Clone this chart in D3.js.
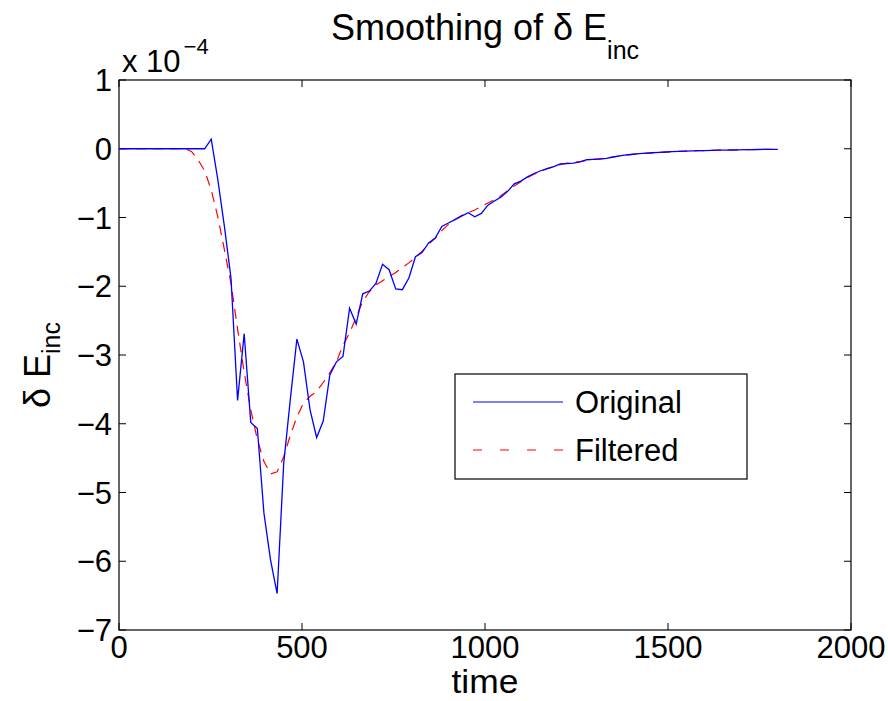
<!DOCTYPE html>
<html>
<head>
<meta charset="utf-8">
<script src="https://cdn.jsdelivr.net/npm/d3@7"></script>
<style>
  body { margin: 0; background: #fff; }
  text { font-family: "Liberation Sans", Arial, Helvetica, sans-serif; fill: #000; }
</style>
</head>
<body>
<svg id="chart" width="888" height="701"></svg>
<script>
// Sample interval of the signal (time units)
const timeStep = 18;

// δE_inc, original signal, in units of 1e-4
const original = [
  0, 0, 0, 0, 0, 0, 0, 0, 0, 0,
  0, 0, 0, 0, 0.14, -0.45, -1.13, -1.88, -3.66, -2.69,
  -3.98, -4.07, -5.30, -5.98, -6.47, -4.58, -3.65, -2.77, -3.10, -3.80,
  -4.20, -3.96, -3.29, -3.10, -3.02, -2.32, -2.55, -2.11, -2.07, -1.96,
  -1.68, -1.76, -2.04, -2.05, -1.88, -1.57, -1.51, -1.37, -1.30, -1.13,
  -1.08, -1.03, -0.98, -0.93, -0.99, -0.94, -0.82, -0.76, -0.70, -0.62,
  -0.51, -0.47, -0.41, -0.36, -0.32, -0.29, -0.26, -0.22, -0.215, -0.21,
  -0.19, -0.16, -0.155, -0.15, -0.14, -0.12, -0.105, -0.09, -0.08, -0.072,
  -0.065, -0.058, -0.052, -0.047, -0.043, -0.039, -0.035, -0.031, -0.028, -0.026,
  -0.023, -0.021, -0.019, -0.018, -0.016, -0.014, -0.013, -0.011, -0.010, -0.009,
  -0.008
];

// δE_inc after smoothing, in units of 1e-4
const filtered = [
  0, 0, 0, 0, 0, 0, 0, 0, 0, 0,
  0, -0.04, -0.16, -0.32, -0.60, -0.99, -1.47, -1.96, -2.62, -3.25,
  -3.80, -4.23, -4.55, -4.73, -4.70, -4.48, -4.17, -3.90, -3.70, -3.60,
  -3.53, -3.40, -3.26, -3.10, -2.86, -2.68, -2.45, -2.22, -2.08, -1.98,
  -1.92, -1.86, -1.80, -1.73, -1.66, -1.58, -1.49, -1.39, -1.30, -1.19,
  -1.10, -1.03, -0.97, -0.93, -0.89, -0.84, -0.79, -0.74, -0.68, -0.61,
  -0.54, -0.48, -0.42, -0.37, -0.33, -0.29, -0.26, -0.23, -0.21, -0.20,
  -0.185, -0.17, -0.155, -0.145, -0.135, -0.12, -0.105, -0.092, -0.082, -0.073,
  -0.066, -0.059, -0.053, -0.048, -0.043, -0.039, -0.035, -0.031, -0.028, -0.026,
  -0.023, -0.021, -0.019, -0.018, -0.016, -0.014, -0.013, -0.011, -0.010, -0.009,
  -0.008
];

const xTicks = [0, 500, 1000, 1500, 2000];
const yTicks = [1, 0, -1, -2, -3, -4, -5, -6, -7];
const seriesNames = ["Original", "Filtered"];

const svg = d3.select("#chart");
const box = { left: 119, right: 851, top: 80, bottom: 630 };

const x = d3.scaleLinear().domain([0, 2000]).range([box.left, box.right]);
const y = d3.scaleLinear().domain([-7, 1]).range([box.bottom, box.top]);

const times = original.map((_, i) => i * timeStep);
const fmt = v => (v < 0 ? "\u2212" + Math.abs(v) : String(v));

const tickFont = 31, labelFont = 36, subFont = 25, tickLen = 7;

// frame
svg.append("rect")
  .attr("x", box.left).attr("y", box.top)
  .attr("width", box.right - box.left).attr("height", box.bottom - box.top)
  .attr("fill", "none").attr("stroke", "#000").attr("stroke-width", 1.2);

// inward ticks on all four sides
const ticks = svg.append("g").attr("stroke", "#000").attr("stroke-width", 1);
xTicks.forEach(t => {
  ticks.append("line").attr("x1", x(t)).attr("x2", x(t)).attr("y1", box.bottom).attr("y2", box.bottom - tickLen);
  ticks.append("line").attr("x1", x(t)).attr("x2", x(t)).attr("y1", box.top).attr("y2", box.top + tickLen);
});
yTicks.forEach(t => {
  ticks.append("line").attr("x1", box.left).attr("x2", box.left + tickLen).attr("y1", y(t)).attr("y2", y(t));
  ticks.append("line").attr("x1", box.right).attr("x2", box.right - tickLen).attr("y1", y(t)).attr("y2", y(t));
});

// tick labels
svg.append("g").selectAll("text").data(xTicks).join("text")
  .attr("x", d => x(d)).attr("y", 658)
  .attr("text-anchor", "middle").attr("font-size", tickFont)
  .text(d => d);
svg.append("g").selectAll("text").data(yTicks).join("text")
  .attr("x", 112).attr("y", d => y(d)).attr("dy", "0.36em")
  .attr("text-anchor", "end").attr("font-size", tickFont)
  .text(fmt);

// exponent marker
const expo = svg.append("text").attr("x", 122).attr("y", 72).attr("font-size", tickFont);
expo.append("tspan").text("x 10");
expo.append("tspan").attr("dx", 3).attr("dy", -18).attr("font-size", 22).text("\u22124");

// title
const title = svg.append("text").attr("x", (box.left + box.right) / 2).attr("y", 40)
  .attr("text-anchor", "middle").attr("font-size", labelFont);
title.append("tspan").text("Smoothing of \u03b4 E");
title.append("tspan").attr("dy", 19).attr("font-size", subFont).text("inc");

// axis labels
svg.append("text").attr("x", (box.left + box.right) / 2).attr("y", 693)
  .attr("text-anchor", "middle").attr("font-size", 33)
  .attr("textLength", 67).attr("lengthAdjust", "spacingAndGlyphs")
  .text("time");
const yl = svg.append("text")
  .attr("transform", `translate(50,${(box.top + box.bottom) / 2 + 10}) rotate(-90)`)
  .attr("text-anchor", "middle").attr("font-size", labelFont);
yl.append("tspan").text("\u03b4 E");
yl.append("tspan").attr("dy", 10).attr("font-size", subFont).text("inc");

// series
const line = d3.line().x((d, i) => x(times[i])).y(d => y(d));
svg.append("path").datum(filtered)
  .attr("d", line).attr("fill", "none")
  .attr("stroke", "#ff0000").attr("stroke-width", 1.2).attr("stroke-dasharray", "10,7");
svg.append("path").datum(original)
  .attr("d", line).attr("fill", "none")
  .attr("stroke", "#0000ff").attr("stroke-width", 1.3);

// legend
const lg = svg.append("g");
lg.append("rect").attr("x", 455).attr("y", 374).attr("width", 292).attr("height", 105)
  .attr("fill", "#fff").attr("stroke", "#000").attr("stroke-width", 1.2);
const legendRows = [
  { name: seriesNames[0], color: "#0000ff", dash: null, y: 402 },
  { name: seriesNames[1], color: "#ff0000", dash: "9,18", y: 450 }
];
legendRows.forEach(r => {
  lg.append("line").attr("x1", 473).attr("x2", 563).attr("y1", r.y).attr("y2", r.y)
    .attr("stroke", r.color).attr("stroke-width", 1.2)
    .attr("stroke-dasharray", r.dash);
  lg.append("text").attr("x", 575).attr("y", r.y).attr("dy", "0.36em")
    .attr("font-size", tickFont).text(r.name);
});
</script>
</body>
</html>
